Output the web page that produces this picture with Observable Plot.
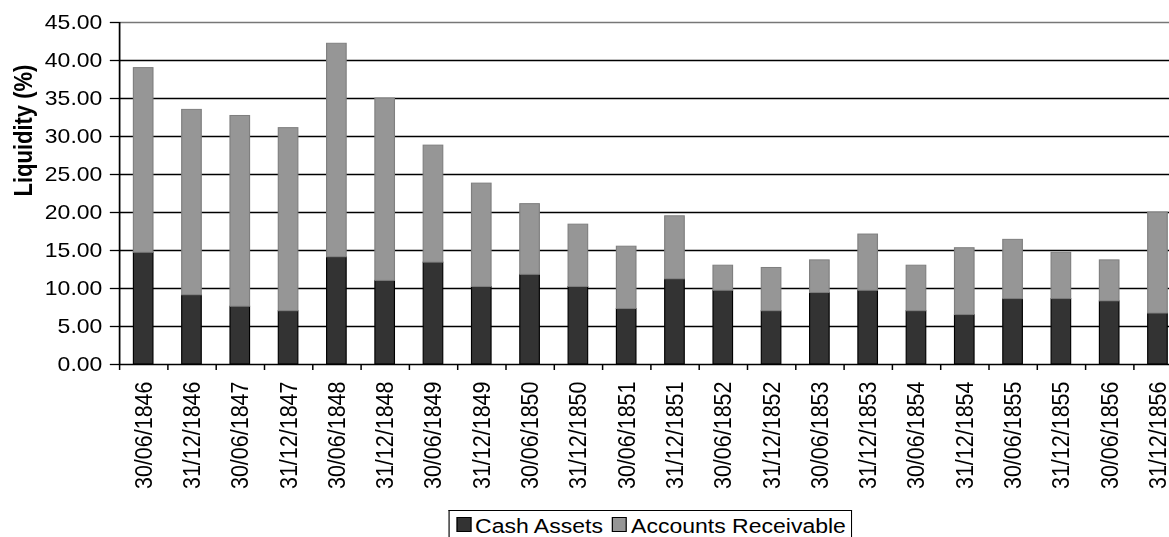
<!DOCTYPE html>
<html>
<head>
<meta charset="utf-8">
<script src="https://cdn.jsdelivr.net/npm/d3@7"></script>
<script src="https://cdn.jsdelivr.net/npm/@observablehq/plot@0.6"></script>
<style>
  html, body { margin: 0; padding: 0; overflow: hidden; background: #fff; }
  #wrap {
    position: relative; width: 1030px; height: 537px;
    transform: scaleX(1.15); transform-origin: 0 0;
    font-family: "Liberation Sans", Arial, sans-serif; color: #000;
  }
  #chart { position: absolute; left: 0; top: 0; }
  #legend {
    position: absolute; left: 389.6px; top: 510px; width: 351px; height: 27px;
    box-sizing: border-box; border: 1px solid #000; border-bottom: none; background: #fff;
    display: flex; align-items: flex-start; padding: 5px 0 0 6px;
    font-size: 20px; line-height: 20px; white-space: nowrap;
  }
  #legend .sw { width: 11px; height: 13px; border: 1px solid #000; margin-top: 1px; margin-right: 3.5px; flex: none; }
  #legend .item { display: flex; align-items: flex-start; margin-right: 8px; }
</style>
</head>
<body>
<div id="wrap">
  <div id="chart"></div>
  <div id="legend"></div>
</div>
<script>
// Half-yearly balance dates
const periods = [
  "30/06/1846", "31/12/1846", "30/06/1847", "31/12/1847", "30/06/1848", "31/12/1848",
  "30/06/1849", "31/12/1849", "30/06/1850", "31/12/1850", "30/06/1851", "31/12/1851",
  "30/06/1852", "31/12/1852", "30/06/1853", "31/12/1853", "30/06/1854", "31/12/1854",
  "30/06/1855", "31/12/1855", "30/06/1856", "31/12/1856"
];

// Liquidity components (%)
const cashAssets = [
  14.7, 9.1, 7.6, 7.0, 14.1, 11.0, 13.4, 10.2, 11.8, 10.2, 7.3,
  11.2, 9.7, 7.0, 9.4, 9.7, 7.0, 6.5, 8.6, 8.6, 8.3, 6.7
];
const accountsReceivable = [
  24.3, 24.4, 25.1, 24.1, 28.1, 24.0, 15.4, 13.6, 9.3, 8.2, 8.2,
  8.3, 3.3, 5.7, 4.3, 7.4, 6.0, 8.8, 7.8, 6.1, 5.4, 13.3
];

const seriesNames = ["Cash Assets", "Accounts Receivable"];
const seriesFills = ["#333333", "#969696"];
const seriesStrokes = ["#000000", "#7f7f7f"];
const yTicks = [0, 5, 10, 15, 20, 25, 30, 35, 40, 45];

const cashRows = periods.map((period, i) => ({period, y1: 0, y2: cashAssets[i]}));
const receivableRows = periods.map((period, i) => ({
  period, y1: cashAssets[i], y2: cashAssets[i] + accountsReceivable[i]
}));

const marginLeft = 103.5, marginRight = 2.5, width = 1030;
const step = (width - marginLeft - marginRight) / periods.length;
const plotHeight = 505 - 22 - 141;

const chart = Plot.plot({
  width, height: 505,
  marginLeft, marginRight, marginTop: 22, marginBottom: 141,
  style: {fontFamily: "'Liberation Sans', Arial, sans-serif", fontSize: "20px", color: "#000", background: "transparent"},
  x: {domain: periods, paddingInner: 0.586, paddingOuter: 0.293, label: null},
  y: {domain: [0, 45], label: null},
  marks: [
    Plot.ruleY(yTicks.filter(t => t > 0 && t < 45), {stroke: "#000", strokeWidth: 1.3}),
    Plot.ruleY([45], {stroke: "#777", strokeWidth: 1.6}),
    Plot.barY(cashRows, {x: "period", y1: "y1", y2: "y2", fill: seriesFills[0], stroke: seriesStrokes[0], strokeWidth: 1}),
    Plot.barY(receivableRows, {x: "period", y1: "y1", y2: "y2", fill: seriesFills[1], stroke: seriesStrokes[1], strokeWidth: 1}),
    Plot.ruleY([0], {stroke: "#000", strokeWidth: 1.5}),
    // vertical axis line on the left edge of the first category
    Plot.ruleX([periods[0]], {x: d => d, dx: -step / 2, stroke: "#000", strokeWidth: 1.5}),
    // category boundary ticks under the horizontal axis
    Plot.ruleX(periods, {x: d => d, dx: -step / 2, insetTop: plotHeight, insetBottom: -6, stroke: "#000", strokeWidth: 1.3}),
    Plot.axisY({ticks: yTicks, tickSize: 8, tickPadding: 7, tickFormat: d => d.toFixed(2), fontSize: 20, strokeWidth: 1.3, label: null}),
    Plot.axisX({tickRotate: -90, tickSize: 0, tickPadding: 17, fontSize: 21.5, label: null}),
    Plot.text(["Liquidity (%)"], {text: d => d, frameAnchor: "left", dx: -83.5, dy: 3, rotate: -90, fontWeight: "bold", fontSize: 22})
  ]
});
document.getElementById("chart").appendChild(chart);

// Legend
const legend = document.getElementById("legend");
seriesNames.forEach((name, i) => {
  const item = document.createElement("div");
  item.className = "item";
  const sw = document.createElement("div");
  sw.className = "sw";
  sw.style.background = seriesFills[i];
  const label = document.createElement("span");
  label.textContent = name;
  item.appendChild(sw);
  item.appendChild(label);
  legend.appendChild(item);
});
</script>
</body>
</html>
